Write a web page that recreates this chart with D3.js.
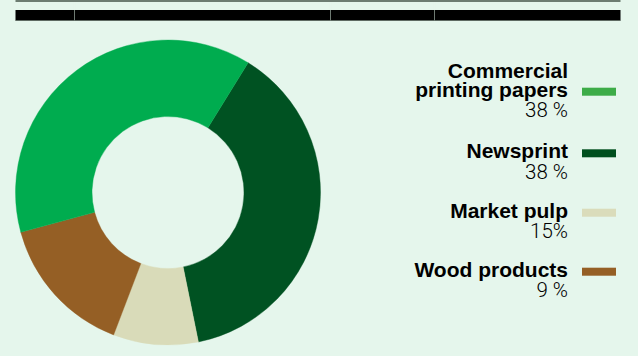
<!DOCTYPE html>
<html>
<head>
<meta charset="utf-8">
<script src="https://cdn.jsdelivr.net/npm/d3@7/dist/d3.min.js"></script>
<style>
  html, body { margin: 0; padding: 0; background: #e5f6ec; }
  svg { display: block; }
</style>
</head>
<body>
<svg id="chart" width="638" height="356"></svg>
<script>
// Sales by product area
const categories = ["Commercial printing papers", "Newsprint", "Market pulp", "Wood products"];
const nameLines = [["Commercial", "printing papers"], ["Newsprint"], ["Market pulp"], ["Wood products"]];
const shares = [38, 38, 15, 9];
const shareLabels = ["38 %", "38 %", "15%", "9 %"];
// clockwise order of the ring segments, by category index
const ringOrder = [1, 3, 2, 0];
// header column edges
const headerCols = [15.5, 74.5, 330.5, 434.5, 620.5];

const legendFill = ["#3dac48", "#004f1e", "#dadcbb", "#955f25"];
const ringFill = ["#00ac4f", "#005222", "#955f25", "#d9dbb9"];

const svg = d3.select("#chart");

// header band
const hdr = svg.append("g");
const x0 = headerCols[0], x1 = headerCols[headerCols.length - 1];
hdr.append("rect").attr("x", x0).attr("y", 0).attr("width", x1 - x0).attr("height", 2).attr("fill", "#6c7c71");
hdr.append("rect").attr("x", x0).attr("y", 10).attr("width", x1 - x0).attr("height", 10.5).attr("fill", "#000");
hdr.append("rect").attr("x", x0).attr("y", 20).attr("width", x1 - x0).attr("height", 1).attr("fill", "#5e6a62");
hdr.selectAll("line.div").data(headerCols.slice(1, -1)).enter().append("line")
  .attr("x1", d => d).attr("x2", d => d)
  .attr("y1", 0).attr("y2", 21)
  .attr("stroke", "#6e7a72").attr("stroke-width", 1);
hdr.selectAll("line.gap").data(headerCols.slice(1, -1)).enter().append("line")
  .attr("x1", d => d).attr("x2", d => d)
  .attr("y1", 2).attr("y2", 10)
  .attr("stroke", "#e5f6ec").attr("stroke-width", 1.2);

// donut
const cx = 168, cy = 192.5, rOuter = 152.5, rInner = 76;
const start = 31.7 * Math.PI / 180;
const pie = d3.pie().sort(null).value(i => shares[i])
  .startAngle(start).endAngle(start + 2 * Math.PI);
const arc = d3.arc().innerRadius(rInner).outerRadius(rOuter);
svg.append("g").attr("transform", `translate(${cx},${cy})`)
  .selectAll("path").data(pie(ringOrder)).enter().append("path")
  .attr("d", arc)
  .attr("fill", d => ringFill[d.data])
  .attr("stroke", d => ringFill[d.data])
  .attr("stroke-width", 0.4);

// legend
const textRight = 568, swX = 582, swW = 34, swH = 8;
const nameBase = [96.7, 158.3, 217.7, 276.7];
const lineStep = 19;
const pctGap = 20.5;
const lg = svg.append("g");
categories.forEach((c, i) => {
  const lines = nameLines[i];
  lines.forEach((ln, j) => {
    lg.append("text")
      .attr("x", textRight)
      .attr("y", nameBase[i] - (lines.length - 1 - j) * lineStep)
      .attr("text-anchor", "end")
      .attr("font-family", "'Liberation Sans', Arial, sans-serif")
      .attr("font-weight", 700)
      .attr("font-size", 21)
      .attr("fill", "#000")
      .text(ln);
  });
  lg.append("text")
    .attr("x", textRight)
    .attr("y", nameBase[i] + pctGap)
    .attr("text-anchor", "end")
    .attr("font-family", "Roboto, 'Liberation Sans', sans-serif")
    .attr("font-weight", 300)
    .attr("font-size", 20.5)
    .attr("fill", "#000")
    .text(shareLabels[i]);
  lg.append("rect")
    .attr("x", swX).attr("y", nameBase[i] - 9)
    .attr("width", swW).attr("height", swH)
    .attr("fill", legendFill[i]);
});
</script>
</body>
</html>
